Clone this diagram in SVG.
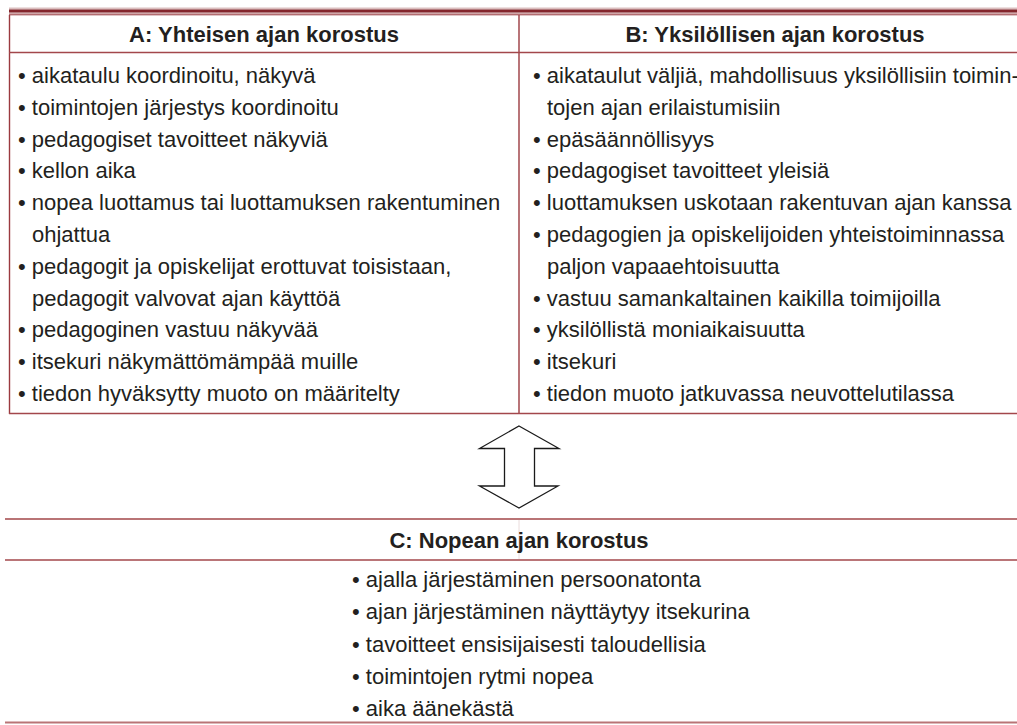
<svg xmlns="http://www.w3.org/2000/svg" width="1017" height="725" viewBox="0 0 1017 725">
  <style>
    .hd { font-family: "Liberation Sans", Arial, sans-serif; font-size: 22px; font-weight: bold; fill: #231f20; }
    .tx { font-family: "Liberation Sans", Arial, sans-serif; font-size: 22px; fill: #231f20; }
    .rule { stroke: #a3474b; stroke-width: 1.6; fill: none; }
    .rule-lt { stroke: #b97476; stroke-width: 2.2; fill: none; }
    .vline { stroke: #9b3a3f; stroke-width: 1.4; fill: none; }
    .arrow { fill: #ffffff; stroke: #1a1a1a; stroke-width: 1.3; stroke-linejoin: miter; }
  </style>

  <rect x="0" y="0" width="1017" height="725" fill="#ffffff"/>

  <!-- heavy double rule above the table -->
  <g id="top-rule">
    <rect x="9" y="7.6" width="1008" height="1.2" fill="#d3aeb0"/>
    <rect x="9" y="9.4" width="1008" height="3.2" fill="#84262c"/>
    <rect x="9" y="13.4" width="1008" height="2" fill="#b26c70"/>
  </g>

  <!-- frame of the two-column table -->
  <g id="table-ab-frame">
    <line class="vline" x1="9.5" y1="15" x2="9.5" y2="414"/>
    <line class="vline" x1="519" y1="15" x2="519" y2="414"/>
    <line class="rule" x1="9" y1="52.5" x2="1017" y2="52.5"/>
    <line class="rule" x1="9" y1="413.5" x2="1017" y2="413.5" stroke-width="2"/>
  </g>

  <!-- column A -->
  <g id="col-a">
    <text class="hd" x="264" y="42" text-anchor="middle">A: Yhteisen ajan korostus</text>
    <text class="tx" x="18" y="83">• aikataulu koordinoitu, näkyvä</text>
    <text class="tx" x="18" y="114.8">• toimintojen järjestys koordinoitu</text>
    <text class="tx" x="18" y="146.6">• pedagogiset tavoitteet näkyviä</text>
    <text class="tx" x="18" y="178.4">• kellon aika</text>
    <text class="tx" x="18" y="210.2">• nopea luottamus tai luottamuksen rakentuminen</text>
    <text class="tx" x="32" y="242">ohjattua</text>
    <text class="tx" x="18" y="273.8">• pedagogit ja opiskelijat erottuvat toisistaan,</text>
    <text class="tx" x="32" y="305.6">pedagogit valvovat ajan käyttöä</text>
    <text class="tx" x="18" y="337.4">• pedagoginen vastuu näkyvää</text>
    <text class="tx" x="18" y="369.2">• itsekuri näkymättömämpää muille</text>
    <text class="tx" x="18" y="401">• tiedon hyväksytty muoto on määritelty</text>
  </g>

  <!-- column B -->
  <g id="col-b">
    <text class="hd" x="775" y="42" text-anchor="middle">B: Yksilöllisen ajan korostus</text>
    <text class="tx" x="533" y="83">• aikataulut väljiä, mahdollisuus yksilöllisiin toimin-</text>
    <text class="tx" x="547" y="114.8">tojen ajan erilaistumisiin</text>
    <text class="tx" x="533" y="146.6">• epäsäännöllisyys</text>
    <text class="tx" x="533" y="178.4">• pedagogiset tavoitteet yleisiä</text>
    <text class="tx" x="533" y="210.2">• luottamuksen uskotaan rakentuvan ajan kanssa</text>
    <text class="tx" x="533" y="242">• pedagogien ja opiskelijoiden yhteistoiminnassa</text>
    <text class="tx" x="547" y="273.8">paljon vapaaehtoisuutta</text>
    <text class="tx" x="533" y="305.6">• vastuu samankaltainen kaikilla toimijoilla</text>
    <text class="tx" x="533" y="337.4">• yksilöllistä moniaikaisuutta</text>
    <text class="tx" x="533" y="369.2">• itsekuri</text>
    <text class="tx" x="533" y="401">• tiedon muoto jatkuvassa neuvottelutilassa</text>
  </g>

  <!-- two-way block arrow between the tables -->
  <g id="connectors">
    <polygon class="arrow" points="519,426 559,448.5 534.5,448.5 534.5,486 558,486 519,508 479.5,486 504.5,486 504.5,448.5 479.5,448.5"/>
  </g>

  <!-- single-column table C -->
  <g id="table-c">
    <line class="rule-lt" x1="5" y1="519" x2="1017" y2="519"/>
    <line x1="519" y1="520" x2="519" y2="559" stroke="#eadcdc" stroke-width="1"/>
    <line class="rule" x1="5" y1="560" x2="1017" y2="560" stroke-width="2"/>
    <line class="rule-lt" x1="5" y1="722.5" x2="1017" y2="722.5" stroke="#c48e90" stroke-width="1.8"/>
    <text class="hd" x="519" y="548" text-anchor="middle">C: Nopean ajan korostus</text>
    <text class="tx" x="352" y="587">• ajalla järjestäminen persoonatonta</text>
    <text class="tx" x="352" y="619.3">• ajan järjestäminen näyttäytyy itsekurina</text>
    <text class="tx" x="352" y="651.6">• tavoitteet ensisijaisesti taloudellisia</text>
    <text class="tx" x="352" y="683.9">• toimintojen rytmi nopea</text>
    <text class="tx" x="352" y="716.2">• aika äänekästä</text>
  </g>
</svg>
